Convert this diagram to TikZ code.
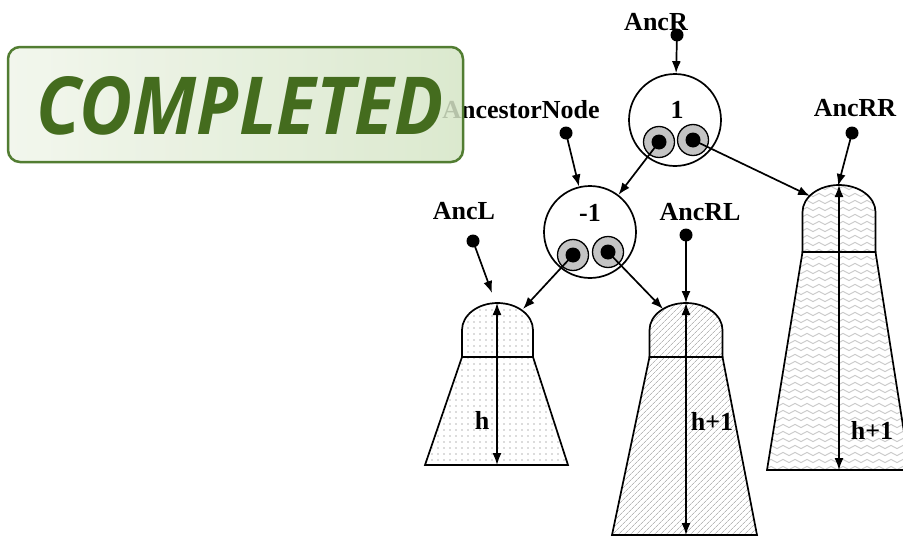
\documentclass[tikz,border=0pt]{standalone}
\usepackage{fontspec}
\setmainfont{Liberation Serif}
\newfontfamily\stampfont{Open Sans}
\usetikzlibrary{arrows.meta, patterns.meta}
\definecolor{stampgreen}{HTML}{446C1E}
\definecolor{stampedge}{HTML}{527D32}
\definecolor{stampleft}{HTML}{F0F5EA}
\definecolor{stampright}{HTML}{D5E5C6}
\definecolor{ptrgray}{HTML}{C4C4C4}
\definecolor{hatchgray}{HTML}{B8B8B8}

\tikzdeclarepattern{
  name=treewaves,
  type=uncolored,
  bounding box={(-0.5pt,-2.5pt) and (12.5pt,2.5pt)},
  tile size={(12pt,7pt)},
  code={
    \draw[line width=1pt] (0,0) sin (3pt,1.6pt) cos (6pt,0) sin (9pt,-1.6pt) cos (12pt,0);
  }
}

\begin{document}
\begin{tikzpicture}[
    x=1pt, y=-1pt,
    line width=1.7pt,
    every node/.style={font=\fontsize{26}{29}\selectfont\bfseries},
    bignode/.style={draw, circle, minimum size=92pt, inner sep=0pt},
    ptr/.style={draw, circle, fill=ptrgray, minimum size=31pt, inner sep=0pt, line width=1.3pt,
      path picture={\fill[black] (path picture bounding box.center) circle (7.5pt);}},
    dot/.style={circle, fill=black, inner sep=0pt, minimum size=13pt},
    link/.style={-{Latex[length=12pt, width=9pt]}},
    dimarrow/.style={{Latex[length=12pt, width=9pt]}-{Latex[length=12pt, width=9pt]}},
    treeL/.style={draw, pattern={Dots[radius=0.8pt, distance=6pt]}, pattern color=hatchgray},
    treeRL/.style={draw, pattern={Lines[angle=45, distance=4pt, line width=0.8pt]}, pattern color=hatchgray},
    treeRR/.style={draw, pattern=treewaves, pattern color=gray!40},
  ]
  \useasboundingbox (0,0) rectangle (903,538);

  % subtrees
  \draw[treeL] (462,357) -- (462,330) arc[start angle=180, end angle=360, x radius=35.5, y radius=27] -- (533,357) -- cycle;
  \draw[treeL] (462,357) -- (533,357) -- (568,465) -- (425,465) -- cycle;
  \draw[treeRL] (649.5,357) -- (649.5,330) arc[start angle=180, end angle=360, x radius=36.5, y radius=27] -- (722.5,357) -- cycle;
  \draw[treeRL] (649.5,357) -- (722.5,357) -- (757,535) -- (612,535) -- cycle;
  \draw[treeRR] (802.5,252) -- (802.5,212) arc[start angle=180, end angle=360, x radius=36.5, y radius=27] -- (875.5,252) -- cycle;
  \draw[treeRR] (802.5,252) -- (875.5,252) -- (910,470) -- (767,470) -- cycle;

  \coordinate (Ltop) at (497,303);
  \coordinate (Lbot) at (497,465);
  \coordinate (RLtop) at (686,303);
  \coordinate (RLbot) at (686,535);
  \coordinate (RRtop) at (839,185);
  \coordinate (RRbot) at (839,470);
  \coordinate (Lhit) at (523,309);
  \coordinate (RLhit) at (663,309);
  \coordinate (RRhit) at (810,196);
  \coordinate (Lin) at (492,293);
  \coordinate (RRin) at (838,186);

  \draw[dimarrow] (Ltop) -- (Lbot);
  \draw[dimarrow] (RLtop) -- (RLbot);
  \draw[dimarrow] (RRtop) -- (RRbot);
  \node (hL) at (482,420) {h};
  \node (hRL) at (712,421) {h+1};
  \node (hRR) at (872,430) {h+1};

  % tree nodes
  \node[bignode] (rootnode) at (675,120) {};
  \node (rootval) at (677,110) {1};
  \node[ptr] (rootptrL) at (659,142) {};
  \node[ptr] (rootptrR) at (693,140) {};
  \node[bignode] (ancnode) at (590,232) {};
  \node (ancval) at (590,213) {-1};
  \node[ptr] (ancptrL) at (573,255) {};
  \node[ptr] (ancptrR) at (608,252) {};

  % outside pointers
  \node (lblR) at (656,22) {AncR};
  \node (lblA) at (521,110) {AncestorNode};
  \node (lblRR) at (855,108) {AncRR};
  \node (lblL) at (464,211) {AncL};
  \node (lblRL) at (700,212) {AncRL};
  \node[dot] (dotR) at (677,35) {};
  \node[dot] (dotA) at (566,133) {};
  \node[dot] (dotRR) at (852,133) {};
  \node[dot] (dotL) at (473,241) {};
  \node[dot] (dotRL) at (686,235) {};

  \draw[link] (dotR.center) -- (rootnode);
  \draw[link] (dotA.center) -- (ancnode);
  \draw[link] (dotRR.center) -- (RRin);
  \draw[link] (dotL.center) -- (Lin);
  \draw[link] (dotRL.center) -- (RLtop);
  \draw[link] (rootptrL.center) -- (ancnode);
  \draw[link] (rootptrR.center) -- (RRhit);
  \draw[link] (ancptrL.center) -- (Lhit);
  \draw[link] (ancptrR.center) -- (RLhit);

  % stamp
  \draw[stampedge, line width=2.5pt, rounded corners=12pt, left color=stampleft, right color=stampright, fill opacity=0.85]
    (8,47) rectangle (463,162);
  \node[text=stampgreen, font=\stampfont\fontsize{80}{84}\selectfont\bfseries\itshape, xscale=0.91, anchor=base, inner sep=0pt] (stamp) at (240,134) {COMPLETED};
\end{tikzpicture}
\end{document}
